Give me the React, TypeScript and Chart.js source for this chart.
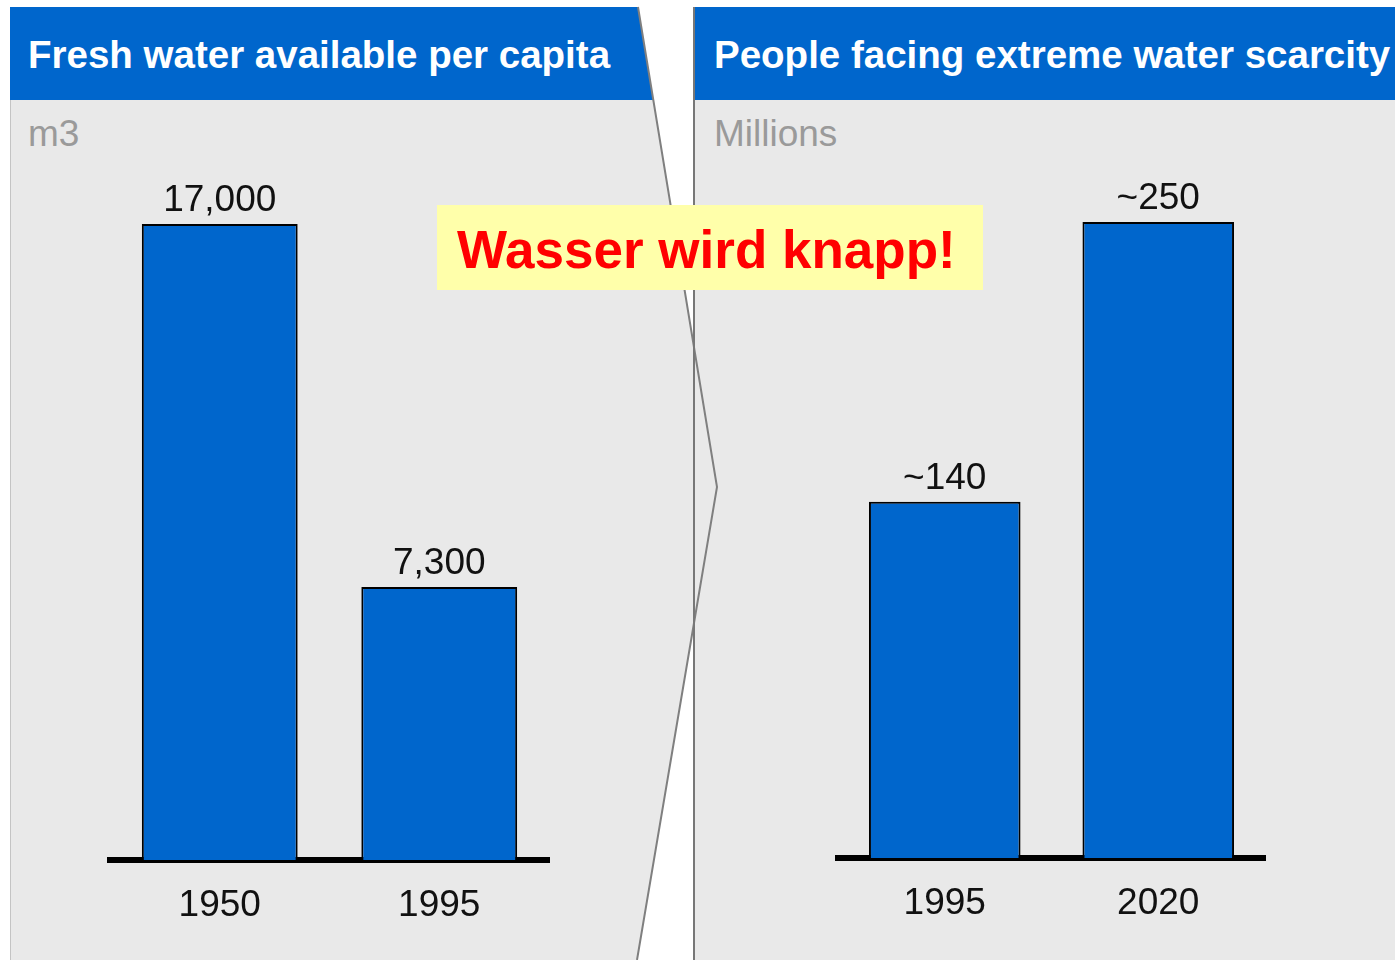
import React, { useEffect, useRef } from "react";
import { Chart, registerables } from "chart.js";

Chart.register(...registerables);

// ---- data ----
const leftCategories = ["1950", "1995"];
const leftValues = [17000, 7300];
const leftValueLabels = ["17,000", "7,300"];
const leftTitle = "Fresh water available per capita";
const leftUnit = "m3";

const rightCategories = ["1995", "2020"];
const rightValues = [140, 250];
const rightValueLabels = ["~140", "~250"];
const rightTitle = "People facing extreme water scarcity";
const rightUnit = "Millions";

const calloutText = "Wasser wird knapp!";

// ---- styles ----
const FONT = "'Liberation Sans', Arial, Helvetica, sans-serif";
const BLUE = "#0066cc";
const PANEL = "#e9e9e9";
const CANVAS_W = 560;
const CANVAS_H = 805;

type PanelProps = {
  categories: string[];
  values: number[];
  valueLabels: string[];
  max: number;
  left: number;
  top: number;
  padding: { top: number; left: number; right: number; bottom: number };
};

function BarPanel({ categories, values, valueLabels, max, left, top, padding }: PanelProps) {
  const ref = useRef<HTMLCanvasElement>(null);
  useEffect(() => {
    if (!ref.current) return;
    const valueLabelPlugin = {
      id: "valueLabels",
      afterDatasetsDraw(chart: any) {
        const ctx = chart.ctx;
        const meta = chart.getDatasetMeta(0);
        ctx.save();
        ctx.fillStyle = "#111";
        ctx.font = `37px ${FONT}`;
        ctx.textAlign = "center";
        ctx.textBaseline = "alphabetic";
        meta.data.forEach((bar: any, i: number) => {
          ctx.fillText(valueLabels[i], bar.x, bar.y - 13);
        });
        ctx.restore();
      },
    };
    const chart = new Chart(ref.current, {
      type: "bar",
      data: {
        labels: categories,
        datasets: [
          {
            data: values,
            backgroundColor: BLUE,
            borderColor: "#000",
            borderWidth: 2,
            categoryPercentage: 1,
            barPercentage: 0.71,
            clip: false as any,
          },
        ],
      },
      options: {
        animation: false,
        responsive: false,
        maintainAspectRatio: false,
        layout: { padding },
        plugins: {
          legend: { display: false },
          tooltip: { enabled: false },
        },
        scales: {
          x: {
            grid: { display: false, drawTicks: false },
            border: { display: true, color: "#000", width: 6 },
            ticks: {
              color: "#111",
              font: { family: FONT, size: 37 },
              padding: 24,
            },
          },
          y: { display: false, min: 0, max },
        },
      },
      plugins: [valueLabelPlugin],
    });
    return () => chart.destroy();
  }, []);
  return (
    <canvas
      ref={ref}
      width={CANVAS_W}
      height={CANVAS_H}
      style={{ position: "absolute", left, top, width: CANVAS_W, height: CANVAS_H }}
    />
  );
}

export default function App() {
  const titleStyle: React.CSSProperties = {
    position: "absolute",
    top: 36,
    color: "#fff",
    fontFamily: FONT,
    fontWeight: "bold",
    fontSize: 38.5,
    lineHeight: "38px",
    whiteSpace: "nowrap",
  };
  const unitStyle: React.CSSProperties = {
    position: "absolute",
    top: 115,
    color: "#9a9a9a",
    fontFamily: FONT,
    fontSize: 37,
    lineHeight: "37px",
    whiteSpace: "nowrap",
  };
  return (
    <div
      style={{
        position: "absolute",
        left: 0,
        top: 0,
        width: 1395,
        height: 960,
        overflow: "hidden",
        background: "#fff",
      }}
    >
      <svg width={1395} height={960} style={{ position: "absolute", left: 0, top: 0 }}>
        <polygon points="10,7 638,7 717,487 637,960 10,960" fill={PANEL} />
        <polygon points="10,7 638,7 653.3,100 10,100" fill={BLUE} />
        <rect x={694} y={7} width={701} height={953} fill={PANEL} />
        <rect x={694} y={7} width={701} height={93} fill={BLUE} />
        <polyline points="638,7 717,487 637,960" stroke="#7f7f7f" strokeWidth={2} fill="none" />
        <line x1={694} y1={7} x2={694} y2={960} stroke="#777" strokeWidth={2} />
        <line x1={10.5} y1={100} x2={10.5} y2={960} stroke="#c4c4c4" strokeWidth={1} />
      </svg>

      <div style={{ ...titleStyle, left: 28 }}>{leftTitle}</div>
      <div style={{ ...titleStyle, left: 714 }}>{rightTitle}</div>
      <div style={{ ...unitStyle, left: 28 }}>{leftUnit}</div>
      <div style={{ ...unitStyle, left: 714 }}>{rightUnit}</div>

      <BarPanel
        categories={leftCategories}
        values={leftValues}
        valueLabels={leftValueLabels}
        max={17000}
        left={60}
        top={150}
        padding={{ top: 74, left: 50, right: 71, bottom: 2.6 }}
      />
      <BarPanel
        categories={rightCategories}
        values={rightValues}
        valueLabels={rightValueLabels}
        max={250}
        left={780}
        top={150}
        padding={{ top: 72, left: 58, right: 75, bottom: 4.6 }}
      />

      <div
        style={{
          position: "absolute",
          left: 437,
          top: 205,
          width: 546,
          height: 85,
          background: "#ffffaa",
        }}
      >
        <div
          style={{
            position: "absolute",
            left: 20,
            top: 18,
            color: "#ff0000",
            fontFamily: FONT,
            fontWeight: "bold",
            fontSize: 53,
            lineHeight: "53px",
            whiteSpace: "nowrap",
          }}
        >
          {calloutText}
        </div>
      </div>
    </div>
  );
}
